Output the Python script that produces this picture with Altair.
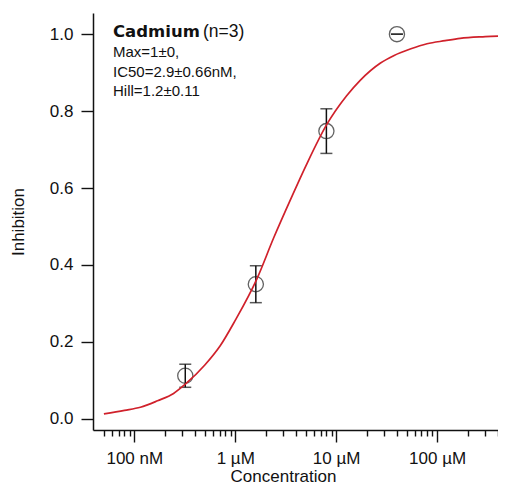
import altair as alt
import pandas as pd

# measured data (concentration in µM)
conc = [0.32, 1.6, 8.0, 40.0]
inhibition = [0.112, 0.35, 0.748, 1.0]
sem = [0.03, 0.048, 0.058, 0.0]

# fitted curve
fit_conc = [0.05, 0.08, 0.115, 0.17, 0.245, 0.32, 0.5, 0.71, 1.0, 1.64, 2.4,
            3.6, 5.0, 8.1, 12.7, 17.3, 27.5, 37.1, 55.0, 79.4, 120.0, 169.0, 300.0, 480.0]
fit_inh = [0.013, 0.022, 0.03, 0.047, 0.066, 0.09, 0.14, 0.19, 0.256, 0.364, 0.47,
           0.575, 0.657, 0.766, 0.84, 0.88, 0.925, 0.944, 0.962, 0.975, 0.983, 0.989, 0.9935, 0.996]

major_ticks = [0.1, 1, 10, 100]
major_labels = ["100 nM", "1 µM", "10 µM", "100 µM"]
minor_ticks = [0.05, 0.06, 0.07, 0.08, 0.09,
               0.2, 0.3, 0.4, 0.5, 0.6, 0.7, 0.8, 0.9,
               2, 3, 4, 5, 6, 7, 8, 9,
               20, 30, 40, 50, 60, 70, 80, 90,
               200, 300, 400]
y_ticks = [0.0, 0.2, 0.4, 0.6, 0.8, 1.0]

legend_title = "Cadmium"
legend_n = "(n=3)"
legend_lines = ["Max=1±0,", "IC50=2.9±0.66nM,", "Hill=1.2±0.11"]

pts = pd.DataFrame({
    "conc": conc,
    "inh": inhibition,
    "lo": [m - e for m, e in zip(inhibition, sem)],
    "hi": [m + e for m, e in zip(inhibition, sem)],
})
fit = pd.DataFrame({"conc": fit_conc, "inh": fit_inh})

FONT = "Liberation Sans"
label_expr = " : ".join(f"datum.value == {v} ? '{l}'" for v, l in zip(major_ticks, major_labels)) + " : ''"
major_list = "[" + ",".join(str(v) for v in major_ticks) + "]"

xscale = alt.Scale(type="log", domain=[0.039, 401], nice=False)
yscale = alt.Scale(domain=[-0.029, 1.055], nice=False, zero=False)

xaxis = alt.Axis(
    values=major_ticks + minor_ticks,
    labelExpr=label_expr,
    tickSize={"condition": {"test": f"indexof({major_list}, datum.value) < 0", "value": 6}, "value": 12},
    tickColor="#111", tickWidth=1.4, domainColor="#111", domainWidth=1.5,
    labelFont=FONT, labelFontSize=17, labelColor="#111", labelPadding=8,
    labelOverlap=False, labelFlush=False, grid=False,
    title="Concentration", titleFont=FONT, titleFontSize=17, titleFontWeight="normal",
    titleColor="#111", titleX=190, titleY=51, titleBaseline="alphabetic",
)
yaxis = alt.Axis(
    values=y_ticks, format=".1f",
    tickSize=12, tickColor="#111", tickWidth=1.4, domainColor="#111", domainWidth=1.5,
    labelFont=FONT, labelFontSize=17, labelColor="#111", labelPadding=8, grid=False,
    title="Inhibition", titleFont=FONT, titleFontSize=17, titleFontWeight="normal",
    titleColor="#111", titlePadding=22,
)

base_x = alt.X("conc:Q", scale=xscale, axis=xaxis)

curve = alt.Chart(fit).mark_line(color="#d0212b", strokeWidth=1.7, interpolate="monotone", clip=True).encode(
    x=base_x, y=alt.Y("inh:Q", scale=yscale, axis=yaxis)
)
bars = alt.Chart(pts).mark_rule(color="#111", strokeWidth=1.5).encode(
    x=alt.X("conc:Q", scale=xscale), y=alt.Y("lo:Q", scale=yscale), y2="hi:Q"
)
cap_lo = alt.Chart(pts).mark_tick(color="#111", size=12, thickness=1.5, orient="horizontal").encode(
    x=alt.X("conc:Q", scale=xscale), y=alt.Y("lo:Q", scale=yscale)
)
cap_hi = alt.Chart(pts).mark_tick(color="#111", size=12, thickness=1.5, orient="horizontal").encode(
    x=alt.X("conc:Q", scale=xscale), y=alt.Y("hi:Q", scale=yscale)
)
points = alt.Chart(pts).mark_point(shape="circle", filled=False, size=230, color="#222", strokeWidth=1.3).encode(
    x=alt.X("conc:Q", scale=xscale), y=alt.Y("inh:Q", scale=yscale)
)

texts = [
    alt.Chart(pd.DataFrame({"t": [legend_title]})).mark_text(
        align="left", baseline="alphabetic", font="DejaVu Sans", fontSize=16.5, fontWeight="bold", color="#111"
    ).encode(x=alt.value(20), y=alt.value(24), text="t:N"),
    alt.Chart(pd.DataFrame({"t": [legend_n]})).mark_text(
        align="left", baseline="alphabetic", font=FONT, fontSize=17.5, color="#111"
    ).encode(x=alt.value(110), y=alt.value(24), text="t:N"),
]
for i, line in enumerate(legend_lines):
    texts.append(
        alt.Chart(pd.DataFrame({"t": [line]})).mark_text(
            align="left", baseline="alphabetic", font=FONT, fontSize=15, color="#111"
        ).encode(x=alt.value(20), y=alt.value(44 + 19.5 * i), text="t:N")
    )

chart = alt.layer(bars, cap_lo, cap_hi, points, curve, *texts).properties(
    width=405, height=417,
    autosize=alt.AutoSizeParams(type="none"),
    padding={"left": 85, "top": 5, "right": 0, "bottom": 54},
    background="white",
).configure_view(stroke=None)

chart.save("out.html", embed_options={"renderer": "svg", "actions": False})
